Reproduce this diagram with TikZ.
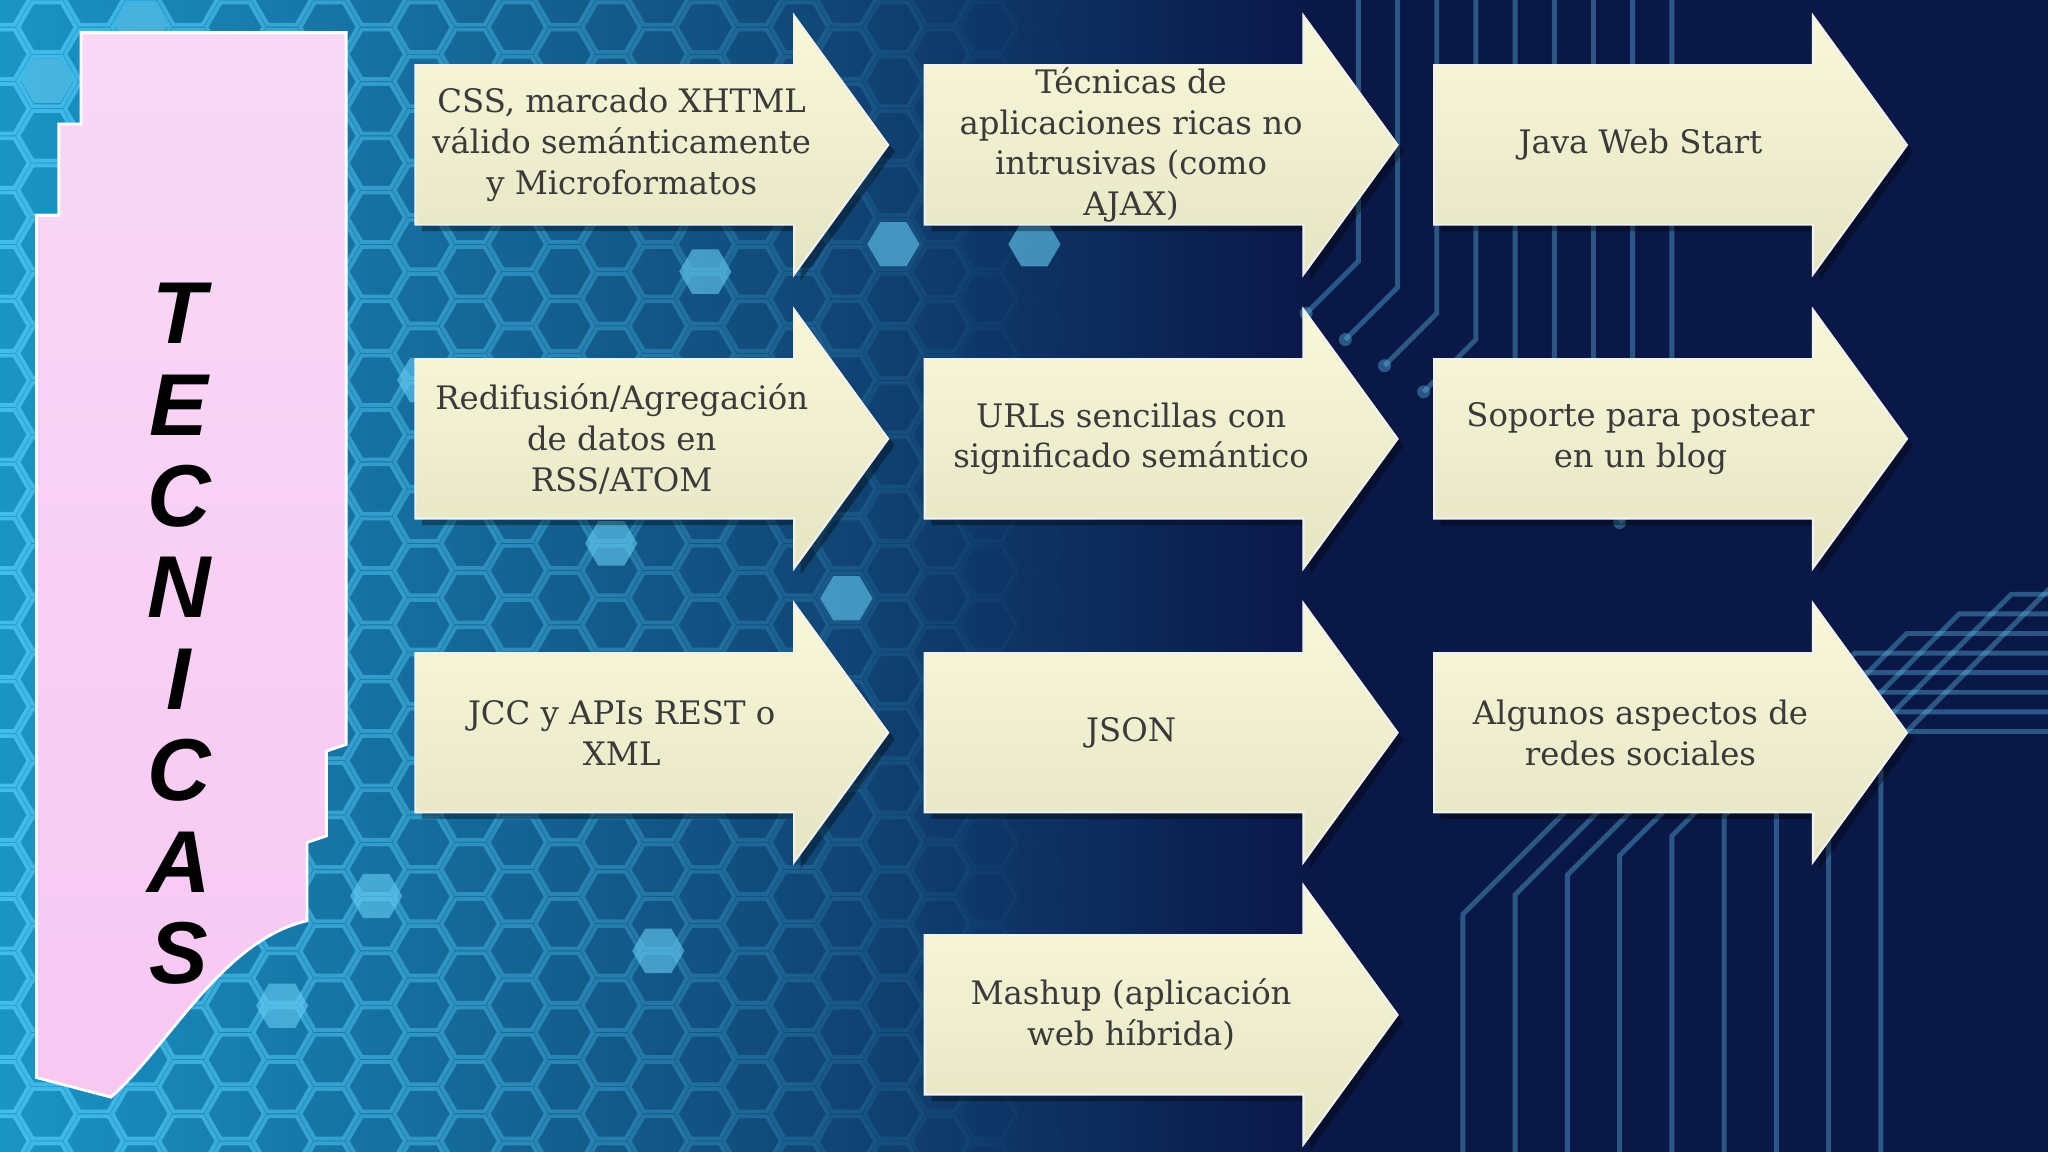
\documentclass[tikz,border=0pt]{standalone}
\usepackage{fontspec}
\setmainfont{DejaVu Serif}
\newfontfamily\lettfont{Liberation Sans}
\definecolor{navy}{HTML}{0A1848}
\definecolor{cyanbg}{HTML}{1EB4E4}
\definecolor{arrowfill}{HTML}{F7F6CF}
\definecolor{pinkfill}{HTML}{F6C8F2}
\definecolor{txt}{HTML}{3A3A3A}
\tikzset{
  arrowlbl/.style={text=txt,align=center,font=\fontsize{9.2}{11.6}\selectfont},
  bigletter/.style={font=\lettfont\bfseries\itshape\fontsize{25}{25}\selectfont,text=black},
  trace/.style={draw=cyan!60,opacity=0.35,line width=1.4pt}
}
\newcommand{\arrowshape}[4]{% name, x0, yc, label
  \fill[black,opacity=0.35] ({#2+5},{#3-56}) -- ({#2+295},{#3-56}) -- ({#2+295},{#3-94}) -- ({#2+367},{#3+5}) -- ({#2+295},{#3+104}) -- ({#2+295},{#3+66}) -- ({#2+5},{#3+66}) -- cycle;
  \path[top color=arrowfill!80!white,bottom color=arrowfill!85!gray,draw=white!90!gray,line width=0.6pt]
    ({#2},{#3-61}) -- ({#2+290},{#3-61}) -- ({#2+290},{#3-99}) -- ({#2+362},{#3}) -- ({#2+290},{#3+99}) -- ({#2+290},{#3+61}) -- ({#2},{#3+61}) -- cycle;
  \node[arrowlbl] (#1) at ({#2+158},{#3}) {#4};
}
\begin{document}
\begin{tikzpicture}[x=0.013061cm,y=-0.013061cm]
\useasboundingbox (0,0) rectangle (1568,882);
\shade[left color=cyanbg!80!navy, right color=navy] (0,0) rectangle (1000,882);
\fill[navy] (999,0) rectangle (1568,882);
% honeycomb
\foreach \i in {0,...,22}{
  \foreach \j in {0,...,21}{
    \pgfmathsetmacro{\cx}{\i*36}
    \pgfmathsetmacro{\cy}{\j*41.6 + mod(\i,2)*20.8}
    \pgfmathsetmacro{\op}{max(0,0.8-\cx/1000)}
    \draw[cyan!70!white,line width=1.1pt,opacity=\op] ({\cx+22},{\cy}) -- ({\cx+11},{\cy+19}) -- ({\cx-11},{\cy+19}) -- ({\cx-22},{\cy}) -- ({\cx-11},{\cy-19}) -- ({\cx+11},{\cy-19}) -- cycle;
  }
}
\foreach \cx/\cy in {36/62,108/20,144/228,324/291,360/520,396/583,288/686,216/770,468/416,540/208,504/728,612/312,648/458,180/395,684/187,792/187}{
  \fill[cyan!60!white,opacity=0.6] ({\cx+20},{\cy}) -- ({\cx+10},{\cy+17}) -- ({\cx-10},{\cy+17}) -- ({\cx-20},{\cy}) -- ({\cx-10},{\cy-17}) -- ({\cx+10},{\cy-17}) -- cycle;
}
% circuit traces
\foreach \k in {0,...,8}{
  \draw[trace] ({1120+\k*40},882) -- ({1120+\k*40},{700-\k*15}) -- ({1260+\k*40},{560-\k*15}) -- (1568,{560-\k*15});
  \draw[trace] ({1040+\k*30},0) -- ({1040+\k*30},{200+\k*20}) -- ({1000+\k*30},{240+\k*20});
  \fill[cyan!60,opacity=0.35] ({1000+\k*30},{240+\k*20}) circle (5);
}
% pink banner
\path[top color=pinkfill!70!white,bottom color=pinkfill,draw=white,line width=0.8pt]
 (62,25) -- (265,25) -- (265,570) -- (250,575) -- (250,640) -- (235,645) -- (235,705)
 .. controls (170,720) and (130,800) .. (85,840) -- (28,825) -- (28,165) -- (45,165) -- (45,95) -- (62,95) -- cycle;
\foreach \L/\yy [count=\n] in {T/240,E/310,C/380,N/450,I/520,C/590,A/660,S/730}{
  \node[bigletter] (l\n) at (137,\yy) {\L};
}
\arrowshape{a11}{318}{111}{CSS, marcado XHTML\\válido semánticamente\\y Microformatos}
\arrowshape{a12}{708}{111}{Técnicas de\\aplicaciones ricas no\\intrusivas (como\\AJAX)}
\arrowshape{a13}{1098}{111}{Java Web Start}
\arrowshape{a21}{318}{336}{Redifusión/Agregación\\de datos en\\RSS/ATOM}
\arrowshape{a22}{708}{336}{URLs sencillas con\\significado semántico}
\arrowshape{a23}{1098}{336}{Soporte para postear\\en un blog}
\arrowshape{a31}{318}{561}{JCC y APIs REST o\\XML}
\arrowshape{a32}{708}{561}{JSON}
\arrowshape{a33}{1098}{561}{Algunos aspectos de\\redes sociales}
\arrowshape{a42}{708}{777}{Mashup (aplicación\\web híbrida)}
\end{tikzpicture}
\end{document}
